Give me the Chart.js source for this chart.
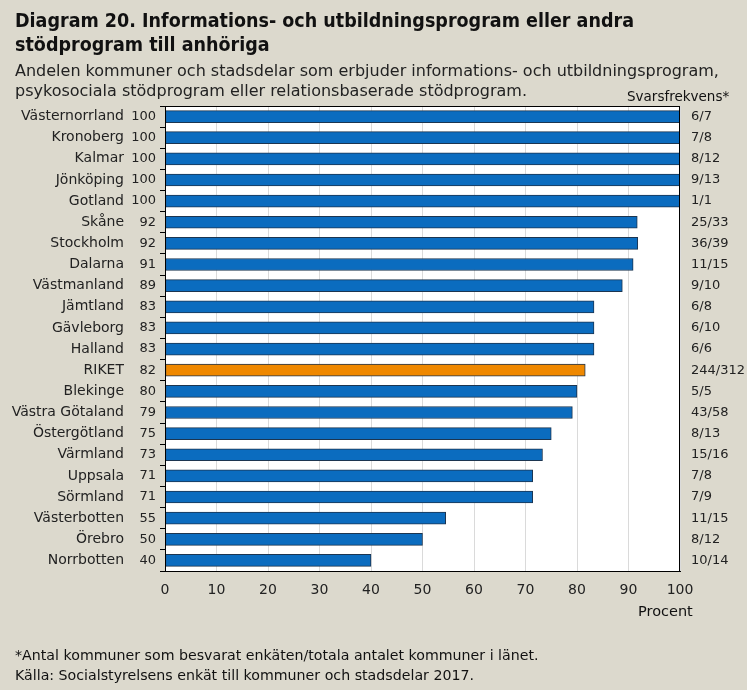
<!DOCTYPE html>
<html lang="sv">
<head>
    <meta charset="UTF-8">
    <title>Diagram 20</title>
    <script src="https://cdn.jsdelivr.net/npm/chart.js"></script>
    <style>
        body {
            margin: 0;
            background-color: #dcd9cd;
            font-family: "DejaVu Sans", sans-serif;
            color: #111;
        }
        .page {
            position: relative;
            width: 747px;
            height: 690px;
        }
        .page div {
            position: absolute;
            white-space: nowrap;
        }
        .titel {
            left: 15px;
            top: 9px;
            font-family: "DejaVu Sans Condensed", "DejaVu Sans", sans-serif;
            font-weight: bold;
            font-size: 19.5px;
            line-height: 24px;
        }
        .undertitel {
            left: 15px;
            top: 61px;
            font-size: 16px;
            line-height: 20px;
            color: #222;
        }
        .svar {
            left: 627px;
            top: 88px;
            font-size: 13.5px;
        }
        .procent {
            left: 638px;
            top: 603px;
            font-size: 14.5px;
        }
        .fot {
            left: 15px;
            top: 645px;
            font-size: 14.2px;
            line-height: 20px;
        }
        canvas {
            position: absolute;
            left: 0;
            top: 0;
        }
    </style>
</head>
<body>
    <div class="page">
        <canvas id="diagram" width="747" height="690"></canvas>
        <div class="titel">Diagram 20. Informations- och utbildningsprogram eller andra<br>stödprogram till anhöriga</div>
        <div class="undertitel">Andelen kommuner och stadsdelar som erbjuder informations- och utbildningsprogram,<br>psykosociala stödprogram eller relationsbaserade stödprogram.</div>
        <div class="svar">Svarsfrekvens*</div>
        <div class="procent">Procent</div>
        <div class="fot">*Antal kommuner som besvarat enkäten/totala antalet kommuner i länet.<br>Källa: Socialstyrelsens enkät till kommuner och stadsdelar 2017.</div>
    </div>

    <script>
        // Län, andel (procent) och svarsfrekvens
        const lan = ['Västernorrland', 'Kronoberg', 'Kalmar', 'Jönköping', 'Gotland', 'Skåne', 'Stockholm',
            'Dalarna', 'Västmanland', 'Jämtland', 'Gävleborg', 'Halland', 'RIKET', 'Blekinge',
            'Västra Götaland', 'Östergötland', 'Värmland', 'Uppsala', 'Sörmland', 'Västerbotten',
            'Örebro', 'Norrbotten'];
        const andel = [100, 100, 100, 100, 100, 91.7, 91.8, 90.9, 88.8, 83.3, 83.3, 83.3, 81.6, 80,
            79.1, 75, 73.3, 71.4, 71.4, 54.5, 50, 40];
        const svarsfrekvens = ['6/7', '7/8', '8/12', '9/13', '1/1', '25/33', '36/39', '11/15', '9/10',
            '6/8', '6/10', '6/6', '244/312', '5/5', '43/58', '8/13', '15/16', '7/8', '7/9', '11/15',
            '8/12', '10/14'];
        const xTicks = [0, 10, 20, 30, 40, 50, 60, 70, 80, 90, 100];

        const bla = '#0b6cbf';
        const orange = '#ef8800';
        const farger = lan.map(n => n === 'RIKET' ? orange : bla);

        const namnFont = { family: 'DejaVu Sans', size: 14 };
        const tickFont = { family: 'DejaVu Sans', size: 13 };

        // Vit bakgrund och ram runt diagramytan
        const ramPlugin = {
            id: 'ram',
            beforeDraw(chart) {
                const a = chart.chartArea;
                const c = chart.ctx;
                c.save();
                c.fillStyle = '#ffffff';
                c.fillRect(a.left, a.top, a.right - a.left, a.bottom - a.top);
                c.restore();
            },
            afterDraw(chart) {
                const a = chart.chartArea;
                const c = chart.ctx;
                c.save();
                c.strokeStyle = '#000000';
                c.lineWidth = 1;
                c.strokeRect(a.left + 0.5, a.top + 0.5, a.right - a.left - 1, a.bottom - a.top);
                c.restore();
            }
        };

        const ctx = document.getElementById('diagram').getContext('2d');
        new Chart(ctx, {
            type: 'bar',
            data: {
                labels: lan,
                datasets: [{
                    data: andel,
                    backgroundColor: farger,
                    borderColor: '#1c3550',
                    borderWidth: 1,
                    borderSkipped: false,
                    barThickness: 12
                }]
            },
            options: {
                indexAxis: 'y',
                responsive: false,
                animation: false,
                layout: { padding: { top: 106, bottom: 79, left: 0, right: 0 } },
                plugins: {
                    legend: { display: false },
                    tooltip: { enabled: false }
                },
                scales: {
                    x: {
                        min: 0,
                        max: 100,
                        afterBuildTicks: (s) => { s.ticks = xTicks.map(v => ({ value: v })); },
                        afterFit: (s) => { s.height = 40; },
                        grid: { color: '#dadada', drawTicks: false },
                        border: { color: '#000000' },
                        ticks: { color: '#222', font: namnFont, padding: 11 }
                    },
                    y: {
                        weight: 1,
                        position: 'left',
                        afterFit: (s) => { s.width = 124; },
                        grid: { display: false, drawTicks: false },
                        border: { display: false },
                        ticks: { color: '#222', font: namnFont, padding: 0 }
                    },
                    yVarde: {
                        type: 'category',
                        labels: lan,
                        axis: 'y',
                        weight: 0,
                        position: 'left',
                        afterFit: (s) => { s.width = 41; },
                        grid: { offset: true, drawOnChartArea: false, tickLength: 5, color: '#000000' },
                        border: { color: '#000000' },
                        ticks: {
                            color: '#222', font: tickFont, padding: 4,
                            callback: (v, i) => Math.round(andel[i])
                        }
                    },
                    ySvar: {
                        type: 'category',
                        labels: lan,
                        axis: 'y',
                        position: 'right',
                        afterFit: (s) => { s.width = 67; },
                        grid: { display: false, drawTicks: false },
                        border: { display: false },
                        ticks: {
                            color: '#222', font: tickFont, padding: 11,
                            callback: (v, i) => svarsfrekvens[i]
                        }
                    }
                }
            },
            plugins: [ramPlugin]
        });
    </script>
</body>
</html>
